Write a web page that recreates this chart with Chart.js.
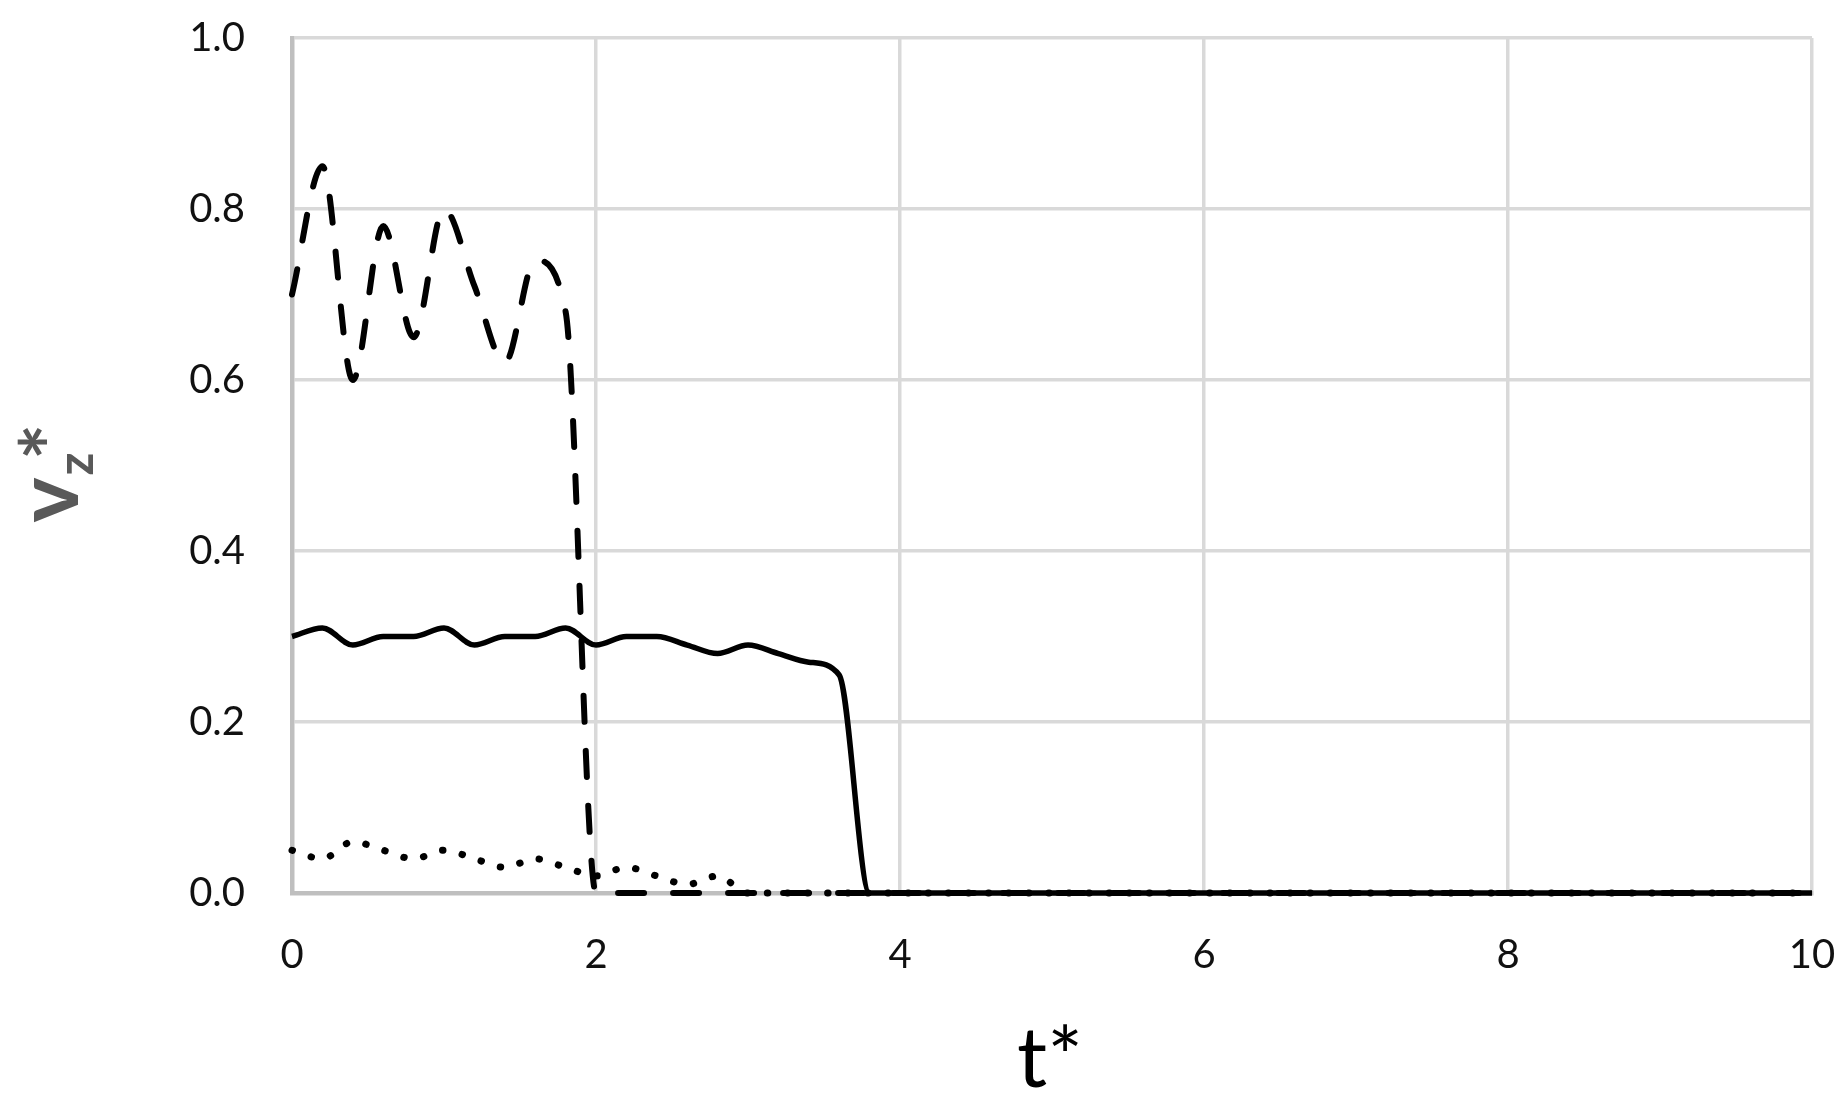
<!DOCTYPE html>
<html>
<head>
<meta charset="utf-8">
<title>vz* vs t*</title>
<script src="https://cdn.jsdelivr.net/npm/chart.js@4.4.1/dist/chart.umd.min.js"></script>
<style>
    html, body { margin: 0; padding: 0; background: #ffffff; }
    #chartBox { width: 1846px; height: 1105px; }
</style>
</head>
<body>
<div id="chartBox"><canvas id="vzGraph" width="1846" height="1105"></canvas></div>
<script>
    "use strict";
    // time axis (t*), shared by the three curves
    const tValues = [0, 0.2, 0.4, 0.6, 0.8, 1, 1.2, 1.4, 1.6, 1.8, 2, 2.2, 2.4, 2.6, 2.8, 3, 3.2, 3.4, 3.6, 3.8, 4, 5, 6, 7, 8, 9, 10];
    // dashed curve
    const dashedValues = [0.70, 0.85, 0.60, 0.78, 0.65, 0.80, 0.71, 0.62, 0.74, 0.68, 0.00, 0.00, 0.00, 0.00, 0.00, 0.00, 0.00, 0.00, 0.00, 0.00, 0.00, 0.00, 0.00, 0.00, 0.00, 0.00, 0.00];
    // solid curve
    const solidValues = [0.30, 0.31, 0.29, 0.30, 0.30, 0.31, 0.29, 0.30, 0.30, 0.31, 0.29, 0.30, 0.30, 0.29, 0.28, 0.29, 0.28, 0.27, 0.255, 0.00, 0.00, 0.00, 0.00, 0.00, 0.00, 0.00, 0.00];
    // dotted curve
    const dottedValues = [0.05, 0.04, 0.06, 0.05, 0.04, 0.05, 0.04, 0.03, 0.04, 0.03, 0.02, 0.03, 0.02, 0.01, 0.02, 0.00, 0.00, 0.00, 0.00, 0.00, 0.00, 0.00, 0.00, 0.00, 0.00, 0.00, 0.00];
    const yTicks = [0, 0.2, 0.4, 0.6, 0.8, 1.0];
    const xTicks = [0, 2, 4, 6, 8, 10];

    const tickFont = { family: "Lato", size: 40 };

    function toPoints(values) {
        return tValues.map(function (t, i) {
            return { x: t, y: values[i] };
        });
    }

    const whiteBackground = {
        id: "whiteBackground",
        beforeDraw: function (chart) {
            const ctx = chart.ctx;
            ctx.save();
            ctx.fillStyle = "#ffffff";
            ctx.fillRect(0, 0, chart.width, chart.height);
            ctx.restore();
        }
    };

    // axis titles: t* below, rotated v with subscript z and star on the left
    const axisTitles = {
        id: "axisTitles",
        afterDraw: function (chart) {
            const ctx = chart.ctx;
            const area = chart.chartArea;
            ctx.save();
            ctx.fillStyle = "#000000";
            ctx.textAlign = "center";
            ctx.textBaseline = "alphabetic";
            ctx.font = "84px Lato";
            ctx.fillText("t*", (area.left + area.right) / 2 - 2, 1087);

            ctx.rotate(-Math.PI / 2);
            ctx.fillStyle = "#595959";
            ctx.font = "bold 86px Lato";
            ctx.fillText("v", -500, 78);
            ctx.font = "bold 50px Lato";
            ctx.fillText("z", -464, 93);
            ctx.font = "bold 86px Lato";
            const star = ctx.measureText("*");
            ctx.fillText("*", -442, 47 - star.actualBoundingBoxDescent);
            ctx.restore();
        }
    };

    const config = {
        type: "line",
        data: {
            datasets: [
                {
                    label: "dashed",
                    data: toPoints(dashedValues),
                    borderColor: "#000000",
                    borderWidth: 6,
                    borderDash: [26, 29],
                    borderCapStyle: "round",
                    pointRadius: 0,
                    clip: 8,
                    cubicInterpolationMode: "monotone"
                },
                {
                    label: "solid",
                    data: toPoints(solidValues),
                    borderColor: "#000000",
                    borderWidth: 5.5,
                    pointRadius: 0,
                    clip: 8,
                    cubicInterpolationMode: "monotone"
                },
                {
                    label: "dotted",
                    data: toPoints(dottedValues),
                    borderColor: "#000000",
                    borderWidth: 7,
                    borderDash: [0.5, 19.6],
                    borderCapStyle: "round",
                    pointRadius: 0,
                    clip: 8,
                    cubicInterpolationMode: "monotone"
                }
            ]
        },
        options: {
            responsive: false,
            animation: false,
            devicePixelRatio: 1,
            layout: {
                padding: { top: 38, right: 34, left: 0, bottom: 0 }
            },
            plugins: {
                legend: { display: false },
                tooltip: { enabled: false },
                title: { display: false }
            },
            scales: {
                x: {
                    type: "linear",
                    min: 0,
                    max: 10,
                    afterBuildTicks: function (scale) {
                        scale.ticks = xTicks.map(function (v) { return { value: v }; });
                    },
                    afterFit: function (scale) {
                        scale.height = 212;
                        scale.paddingLeft = 0;
                        scale.paddingRight = 0;
                    },
                    grid: {
                        color: "#d9d9d9",
                        lineWidth: 3.5,
                        drawTicks: false
                    },
                    border: { color: "#bfbfbf", width: 4.5 },
                    ticks: {
                        font: tickFont,
                        color: "#111111",
                        padding: 38,
                        maxRotation: 0
                    }
                },
                y: {
                    min: 0,
                    max: 1,
                    afterBuildTicks: function (scale) {
                        scale.ticks = yTicks.map(function (v) { return { value: v }; });
                    },
                    afterFit: function (scale) {
                        scale.width = 292;
                        scale.paddingTop = 0;
                        scale.paddingBottom = 0;
                    },
                    grid: {
                        color: "#d9d9d9",
                        lineWidth: 3.5,
                        drawTicks: false
                    },
                    border: { color: "#bfbfbf", width: 4.5 },
                    ticks: {
                        font: tickFont,
                        color: "#111111",
                        padding: 47,
                        callback: function (value) {
                            return Number(value).toFixed(1);
                        }
                    }
                }
            }
        },
        plugins: [whiteBackground, axisTitles]
    };

    const vzChart = new Chart(document.getElementById("vzGraph"), config);
</script>
</body>
</html>
